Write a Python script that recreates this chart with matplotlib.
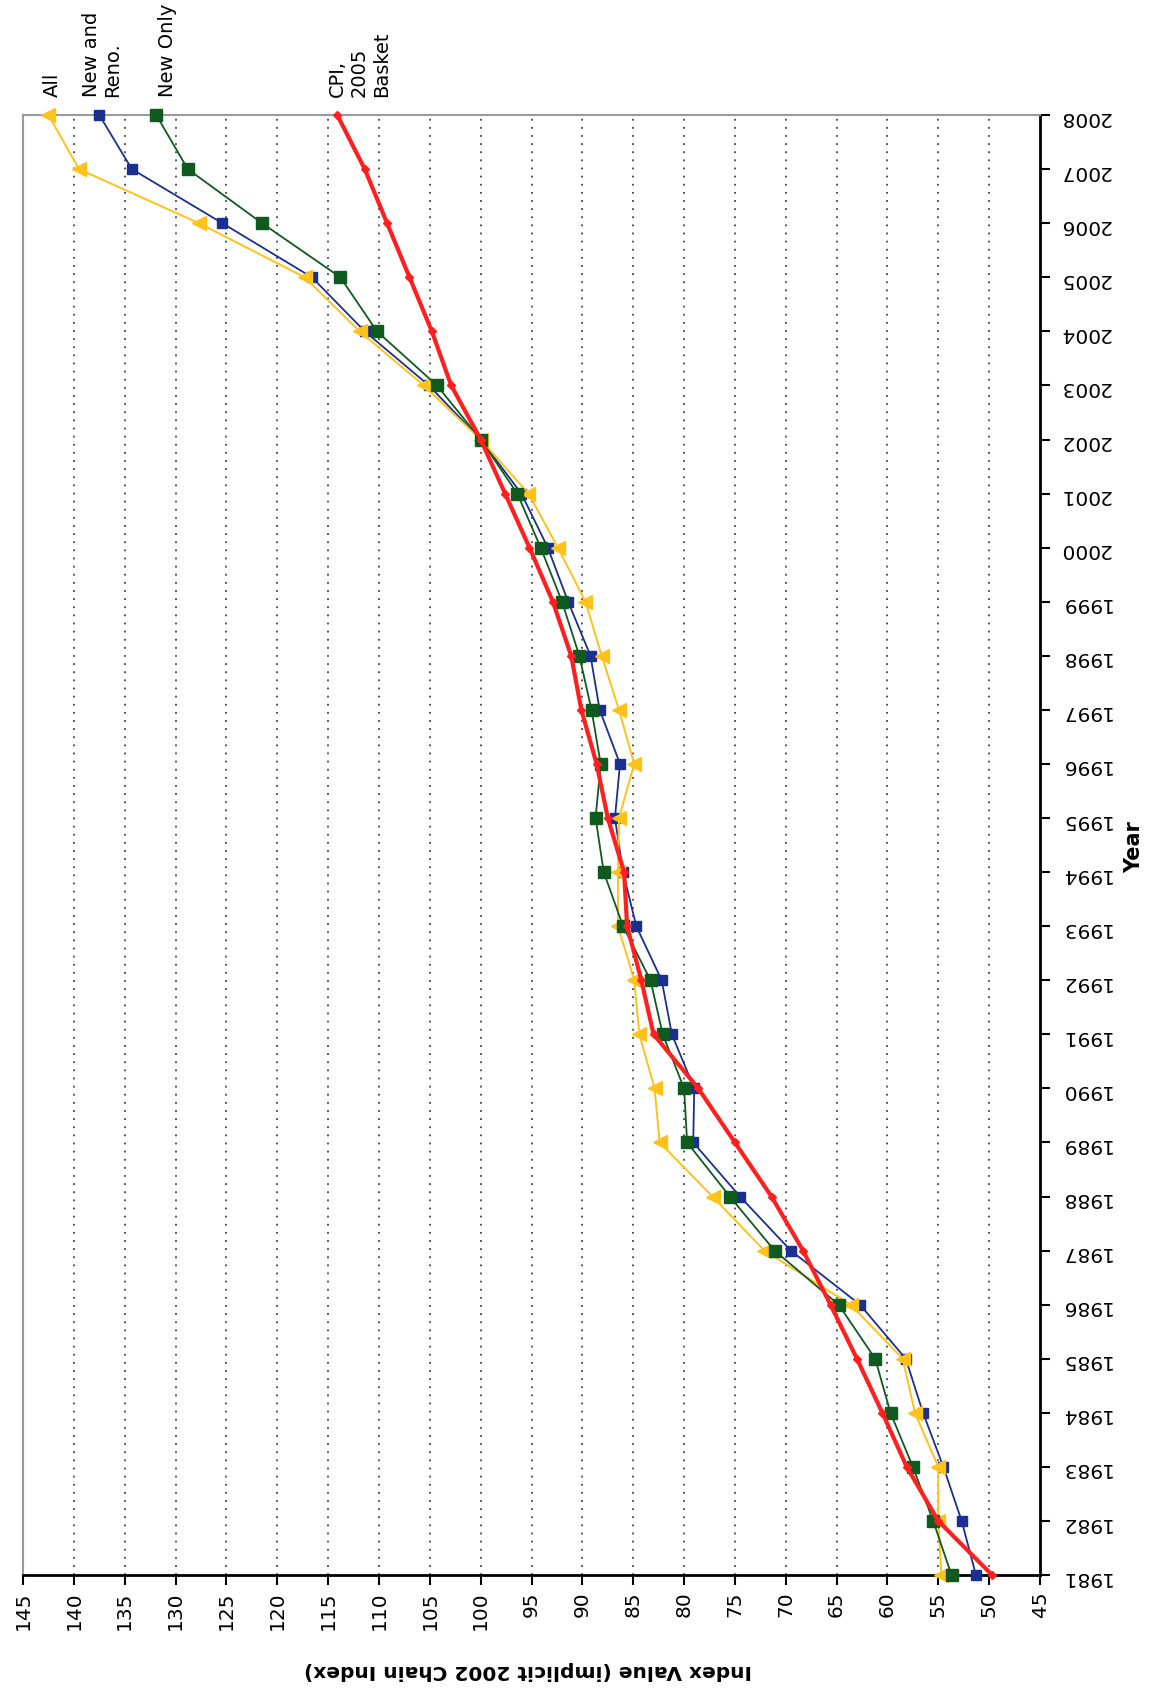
import matplotlib.pyplot as plt

years = list(range(1981, 2009))

all_idx = [54.7, 55.0, 55.0, 57.3, 58.5, 63.6, 72.1, 77.2, 82.4, 82.9,
           84.4, 84.9, 86.5, 86.5, 86.4, 84.9, 86.4, 88.1, 89.7, 92.4,
           95.3, 100.0, 105.6, 111.9, 117.3, 127.7, 139.5, 142.5]
new_reno = [51.3, 52.7, 54.5, 56.5, 58.2, 62.7, 69.5, 74.5, 79.1, 79.0,
            81.2, 82.2, 84.7, 86.0, 86.8, 86.3, 88.3, 89.2, 91.4, 93.4,
            96.0, 100.0, 105.1, 111.4, 116.6, 125.4, 134.3, 137.5]
new_only = [53.7, 55.5, 57.5, 59.7, 61.2, 64.8, 71.1, 75.5, 79.7, 80.0,
            82.1, 83.3, 86.0, 87.9, 88.7, 88.2, 89.1, 90.3, 92.0, 94.1,
            96.4, 100.0, 104.3, 110.2, 113.8, 121.5, 128.8, 131.9]
cpi_2005 = [49.7, 55.0, 58.1, 60.5, 63.0, 65.6, 68.3, 71.4, 75.0, 78.6,
            83.0, 84.2, 85.6, 85.9, 87.5, 88.6, 90.1, 91.1, 92.9, 95.2,
            97.6, 100.0, 102.9, 104.8, 107.0, 109.2, 111.4, 114.1]

index_ticks = list(range(45, 150, 5))

# name, values, colour, marker, marker size, line width, z-order, label x-offset (pt)
series = [
    ("New and\nReno.", new_reno, "#1a2f8f", "s", 7.5, 1.3, 3, 2),
    ("All", all_idx, "#ffc21a", "<", 10.5, 1.4, 4, 3),
    ("New Only", new_only, "#0f5a1f", "s", 8.5, 1.3, 5, 8),
    ("CPI,\n2005\nBasket", cpi_2005, "#ff1f1f", "D", 4.5, 3.0, 6, 16),
]

plt.rcParams["font.family"] = ["DejaVu Sans"]

fig = plt.figure(figsize=(11.53, 16.92), dpi=100)
ax = fig.add_axes([0.0200, 0.0691, 0.8820, 0.8629])

for name, vals, color, marker, ms, lw, z, dx in series:
    ax.plot(vals, years, color=color, lw=lw, marker=marker, ms=ms,
            mec=color, mfc=color, zorder=z, clip_on=False)
    ax.annotate(name, xy=(vals[-1], years[-1]), xytext=(dx, 13),
                textcoords="offset points", rotation=90, ha="center",
                va="bottom", multialignment="left", fontsize=14,
                annotation_clip=False)

for v in index_ticks[1:-1]:
    ax.axvline(v, color="#444444", ls=(0, (1, 3.5)), lw=1.3, zorder=1)

ax.set_xlim(145, 45)
ax.set_ylim(1981, 2008)

ax.set_xticks(index_ticks)
ax.set_xticklabels([str(v) for v in index_ticks], rotation=90)
ax.yaxis.tick_right()
ax.set_yticks(years)
ax.set_yticklabels([str(y) for y in years], rotation=180)

ax.tick_params(axis="x", direction="out", length=7, width=1.5, pad=5, labelsize=14.5)
ax.tick_params(axis="y", direction="out", length=7, width=1.5, pad=7, labelsize=14.5,
               left=False, right=True)

for side in ("left", "top"):
    ax.spines[side].set_color("#9a9a9a")
    ax.spines[side].set_linewidth(1.5)
for side in ("right", "bottom"):
    ax.spines[side].set_color("black")
    ax.spines[side].set_linewidth(2)

fig.text(0.458, 0.013, "Index Value (implicit 2002 Chain Index)", rotation=180,
         ha="center", va="center", fontsize=14.5, fontweight="bold")
fig.text(0.984, 0.4995, "Year", rotation=90, ha="center", va="center",
         fontsize=15, fontweight="bold")

fig.savefig("out.png", dpi=100)
